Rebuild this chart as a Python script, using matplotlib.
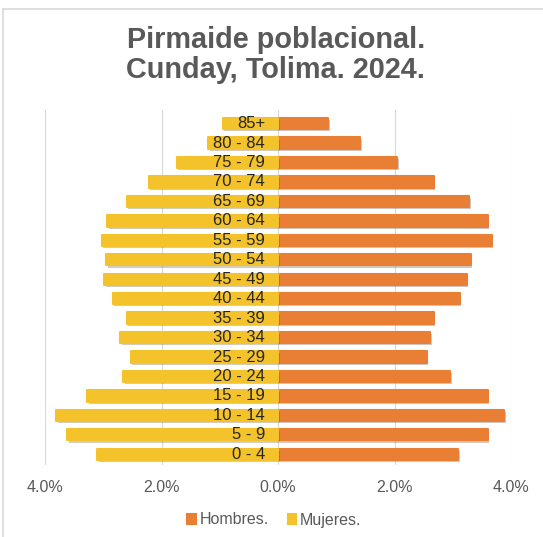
import matplotlib
matplotlib.use("Agg")
import matplotlib.pyplot as plt
from matplotlib.lines import Line2D
from matplotlib.ticker import FuncFormatter
import matplotlib.patheffects as pe

plt.rcParams['font.family'] = ['Liberation Sans', 'DejaVu Sans']

age_groups = ["0 - 4", "5 - 9", "10 - 14", "15 - 19", "20 - 24", "25 - 29", "30 - 34",
              "35 - 39", "40 - 44", "45 - 49", "50 - 54", "55 - 59", "60 - 64",
              "65 - 69", "70 - 74", "75 - 79", "80 - 84", "85+"]
hombres = [3.09, 3.60, 3.88, 3.60, 2.95, 2.55, 2.61, 2.67, 3.12, 3.24, 3.31, 3.67,
           3.60, 3.28, 2.67, 2.05, 1.41, 0.86]
mujeres = [3.10, 3.62, 3.81, 3.28, 2.66, 2.53, 2.71, 2.60, 2.84, 2.98, 2.95, 3.03,
           2.93, 2.60, 2.22, 1.74, 1.20, 0.95]
x_ticks = [-4, -2, 0, 2, 4]
title_lines = ["Pirmaide poblacional.", "Cunday, Tolima. 2024."]

c_h = '#E97E35'
c_m = '#F4C22B'
gray = '#595959'

fig = plt.figure(figsize=(5.43, 5.37), dpi=100)
ax = fig.add_axes([45/543, 1-465/537, (511-45)/543, (465-110)/537])

y = list(range(len(age_groups)))
shadow = [pe.SimplePatchShadow(offset=(1.2, -1.5), alpha=0.25), pe.Normal()]
bh = ax.barh(y, hombres, height=0.58, color=c_h, edgecolor=c_h, linewidth=1.5,
             joinstyle='round', label='Hombres.', zorder=3)
bm = ax.barh(y, [-v for v in mujeres], height=0.58, color=c_m, edgecolor=c_m,
             linewidth=1.5, joinstyle='round', label='Mujeres.', zorder=3)
for b in list(bh) + list(bm):
    b.set_path_effects(shadow)

for yi, lab in zip(y, age_groups):
    ax.text(-0.22, yi, lab, ha='right', va='center', fontsize=12, color='#262626',
            zorder=5)

ax.set_xlim(-4, 4)
ax.set_ylim(-0.55, 17.7)
ax.set_xticks(x_ticks)
ax.xaxis.set_major_formatter(FuncFormatter(lambda v, p: f"{abs(v):.1f}%"))
ax.set_yticks([])
ax.tick_params(axis='x', length=0, labelsize=11.5, labelcolor=gray, pad=11)
ax.grid(axis='x', color='#d9d9d9', linewidth=0.8, zorder=0)
for s in ax.spines.values():
    s.set_visible(False)

fig.text(0.508, 1-48/537, title_lines[0], ha='center', va='baseline',
         fontsize=20.8, fontweight='bold', color=gray)
fig.text(0.508, 1-78/537, title_lines[1], ha='center', va='baseline',
         fontsize=20.8, fontweight='bold', color=gray)

handles = [bh, bm]
leg = fig.legend(handles, ['Hombres.', 'Mujeres.'], loc='center',
                 bbox_to_anchor=(0.505, 1-520/537), ncol=2, frameon=False,
                 fontsize=11.5, handlelength=0.55, handleheight=0.55,
                 handletextpad=0.2, columnspacing=1.2)
for t in leg.get_texts():
    t.set_color(gray)
for h in leg.legend_handles:
    h.set_path_effects([])

fig.add_artist(Line2D([3/543, 1], [1-9/537, 1-9/537], color='#d9d9d9', lw=1.2,
                      transform=fig.transFigure))
fig.add_artist(Line2D([3/543, 3/543], [0, 1-9/537], color='#d9d9d9', lw=1.2,
                      transform=fig.transFigure))

fig.savefig("out.png", dpi=100, facecolor='white')
